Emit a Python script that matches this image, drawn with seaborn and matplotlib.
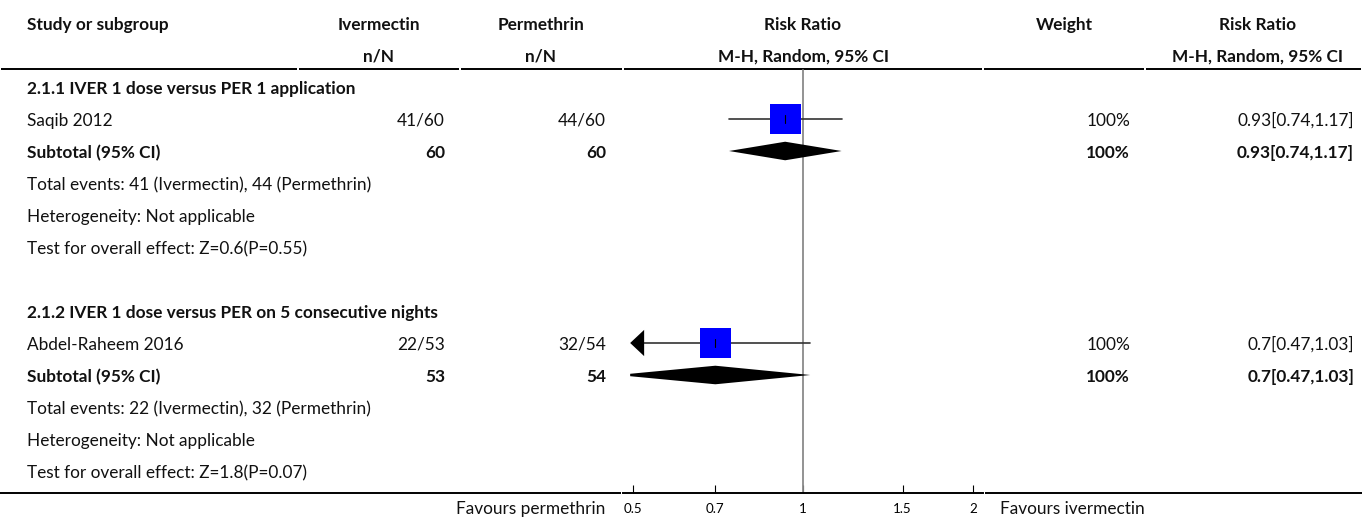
import numpy as np
import pandas as pd
import matplotlib
matplotlib.use("Agg")
import matplotlib.pyplot as plt
from matplotlib.patches import Polygon
import seaborn as sns

# ---- data -------------------------------------------------------------
subgroup_titles = [
    "2.1.1 IVER 1 dose versus PER 1 application",
    "2.1.2 IVER 1 dose versus PER on 5 consecutive nights",
]
studies = ["Saqib 2012", "Abdel-Raheem 2016"]
iver_events = [41, 22]
iver_total = [60, 53]
perm_events = [44, 32]
perm_total = [60, 54]
rr = [0.93, 0.7]
rr_lo = [0.74, 0.47]
rr_hi = [1.17, 1.03]
weights = [100, 100]
z_values = [0.6, 1.8]
p_values = [0.55, 0.07]
tick_values = [0.5, 0.7, 1, 1.5, 2]
tick_labels = ["0.5", "0.7", "1", "1.5", "2"]

# ---- style ------------------------------------------------------------
sns.set_theme(style="white")
FONT = ["Lato", "DejaVu Sans"]
plt.rcParams["font.family"] = FONT
BODY = 12.4
TICK = 9.6
TXT = "#111111"

W, H = 1362, 519
fig = plt.figure(figsize=(W / 100, H / 100), dpi=100)

# table axes in pixel-x / row-y units
ROW0_PX, ROW_PX = 87, 32
ylim = ((H - ROW0_PX) / ROW_PX, -ROW0_PX / ROW_PX)
ax = fig.add_axes([0, 0, 1, 1])
ax.set_xlim(0, W)
ax.set_ylim(*ylim)
ax.axis("off")

# forest-plot axes (log scale) occupying its own column
F_LEFT, F_RIGHT = 623, 983
XMAX = 2.08
axf = fig.add_axes([F_LEFT / W, 0, (F_RIGHT - F_LEFT) / W, 1])
axf.set_xscale("log")
axf.set_xlim(1 / XMAX, XMAX)
axf.set_ylim(*ylim)
axf.patch.set_alpha(0)

CLIP_LO, CLIP_HI = 0.495, 2.02
TEXT_DY = 0.06  # text sits slightly below the row centre line

def txt(x, y, s, ha="left", bold=False, size=BODY):
    ax.text(x, y + TEXT_DY, s, ha=ha, va="center", fontsize=size,
            fontweight="bold" if bold else "normal", color=TXT)

# header
HDR1, HDR2 = -2, -1
col_iv, col_pe, col_rr, col_w, col_rr2 = 379, 541, 803, 1064, 1258
txt(27, HDR1, "Study or subgroup", bold=True)
txt(col_iv, HDR1, "Ivermectin", ha="center", bold=True)
txt(col_iv, HDR2, "n/N", ha="center", bold=True)
txt(col_pe, HDR1, "Permethrin", ha="center", bold=True)
txt(col_pe, HDR2, "n/N", ha="center", bold=True)
txt(col_rr, HDR1, "Risk Ratio", ha="center", bold=True)
txt(col_rr, HDR2, "M-H, Random, 95% CI", ha="center", bold=True)
txt(col_w, HDR1, "Weight", ha="center", bold=True)
txt(col_rr2, HDR1, "Risk Ratio", ha="center", bold=True)
txt(col_rr2, HDR2, "M-H, Random, 95% CI", ha="center", bold=True)

# header rule, one segment per column
line_y_top = (69 - ROW0_PX) / ROW_PX
bounds = [0, 298, 460, 623, 983, 1145, W]
for a, b in zip(bounds[:-1], bounds[1:]):
    ax.plot([a + 1, b - 1], [line_y_top, line_y_top], color="black", lw=1.4,
            solid_capstyle="butt")

# bottom rule outside the forest column
line_y_bot = (492.7 - ROW0_PX) / ROW_PX
for a, b in [(0, 621), (985, W)]:
    ax.plot([a, b], [line_y_bot, line_y_bot], color="black", lw=1.4,
            solid_capstyle="butt")

# body rows
X_IV_R, X_PE_R, X_W_R, X_RR_R = 445, 606, 1130, 1354
rows = []
for g in range(2):
    base = 7 * g
    txt(27, base, subgroup_titles[g], bold=True)
    # study row
    txt(27, base + 1, studies[g])
    txt(X_IV_R, base + 1, f"{iver_events[g]}/{iver_total[g]}", ha="right")
    txt(X_PE_R, base + 1, f"{perm_events[g]}/{perm_total[g]}", ha="right")
    txt(X_W_R, base + 1, f"{weights[g]}%", ha="right")
    txt(X_RR_R, base + 1, f"{rr[g]:g}[{rr_lo[g]:g},{rr_hi[g]:g}]", ha="right")
    # subtotal row
    txt(27, base + 2, "Subtotal (95% CI)", bold=True)
    txt(X_IV_R, base + 2, f"{iver_total[g]}", ha="right", bold=True)
    txt(X_PE_R, base + 2, f"{perm_total[g]}", ha="right", bold=True)
    txt(X_W_R, base + 2, f"{weights[g]}%", ha="right", bold=True)
    txt(X_RR_R, base + 2, f"{rr[g]:g}[{rr_lo[g]:g},{rr_hi[g]:g}]", ha="right", bold=True)
    txt(27, base + 3, f"Total events: {iver_events[g]} (Ivermectin), "
                      f"{perm_events[g]} (Permethrin)")
    txt(27, base + 4, "Heterogeneity: Not applicable")
    txt(27, base + 5, f"Test for overall effect: Z={z_values[g]:g}(P={p_values[g]:g})")
    rows.append(base + 1)

df = pd.DataFrame({"rr": rr, "lo": rr_lo, "hi": rr_hi, "row": rows,
                   "weight": weights})

# line of no effect
axf.plot([1, 1], [line_y_top + 0.03, line_y_bot], color="#8a8a8a", lw=1.3,
         zorder=1)

# confidence intervals, with arrows when they leave the plotted range
ARROW_LEN = np.exp(14 / 170.7 * np.log(2))
for _, r in df.iterrows():
    lo = max(r.lo, CLIP_LO)
    hi = min(r.hi, CLIP_HI)
    x0 = lo * ARROW_LEN if r.lo < CLIP_LO else lo
    axf.plot([x0, hi], [r.row, r.row], color="#333333", lw=1.2, zorder=2)
    if r.lo < CLIP_LO:
        axf.add_patch(Polygon([[CLIP_LO, r.row], [x0, r.row - 0.41],
                               [x0, r.row + 0.41]], closed=True,
                              color="black", lw=0, zorder=3))

# study point estimates, square area by weight
sns.scatterplot(data=df, x="rr", y="row", ax=axf, marker="s",
                s=df["weight"].to_numpy() * 4.95, color="#0000ff",
                linewidth=0, zorder=4, legend=False)
for _, r in df.iterrows():
    axf.plot([r.rr, r.rr], [r.row - 0.13, r.row + 0.13], color="black",
             lw=0.8, zorder=5)

# subtotal diamonds, clipped to the plotted range
HALF = 0.29
for _, r in df.iterrows():
    y = r.row + 1
    L, C, R = np.log(r.lo), np.log(r.rr), np.log(r.hi)
    pts = []
    if r.lo < CLIP_LO:
        cl = np.log(CLIP_LO)
        h = HALF * (cl - L) / (C - L)
        pts += [[CLIP_LO, y + h], [CLIP_LO, y - h]]
    else:
        pts += [[r.lo, y]]
    pts += [[r.rr, y - HALF], [r.hi, y], [r.rr, y + HALF]]
    axf.add_patch(Polygon(pts, closed=True, color="black", lw=0, zorder=3))

# axis
for side in ["top", "left", "right"]:
    axf.spines[side].set_visible(False)
axf.spines["bottom"].set_position(("data", line_y_bot))
axf.spines["bottom"].set_linewidth(1.4)
axf.spines["bottom"].set_color("black")
axf.set_xticks(tick_values)
axf.set_xticklabels(tick_labels)
axf.xaxis.set_minor_locator(matplotlib.ticker.NullLocator())
axf.tick_params(axis="x", direction="in", length=6, width=0.8, pad=7.5,
                labelsize=TICK, colors="black", bottom=True)
axf.set_yticks([])
axf.set_xlabel("")
axf.set_ylabel("")

txt(605, 13.12, "Favours permethrin", ha="right")
txt(1000, 13.12, "Favours ivermectin", ha="left")

fig.savefig("out.png", dpi=100)
